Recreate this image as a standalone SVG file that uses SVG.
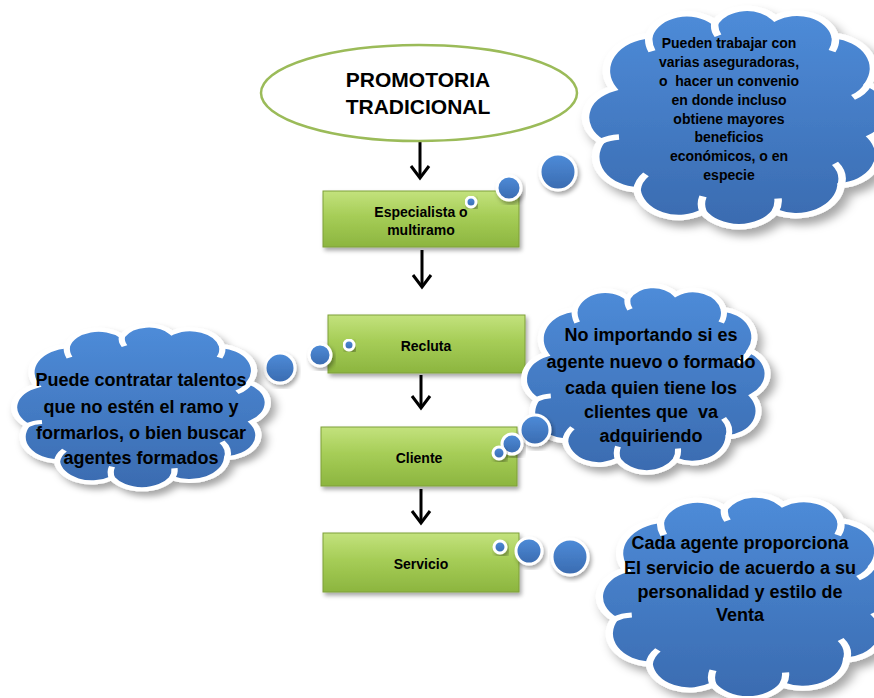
<svg xmlns="http://www.w3.org/2000/svg" width="874" height="698" viewBox="0 0 874 698">
<style>
.box{fill:url(#boxGrad);stroke:#7f9f3a;stroke-width:1;filter:url(#sh)}
.btxt{font-family:"Liberation Sans",Arial,sans-serif;font-weight:bold;font-size:14px;fill:#000;text-anchor:middle}
.cloud{fill:url(#cloudGrad);stroke:#ffffff;stroke-width:2.5;vector-effect:non-scaling-stroke;filter:url(#sh)}
.inner{fill:none;stroke:#ffffff;stroke-width:2.5;vector-effect:non-scaling-stroke}
.bub{fill:url(#cloudGrad);stroke:#ffffff;stroke-width:3;filter:url(#sh)}
.ctxt{font-family:"Liberation Sans",Arial,sans-serif;font-weight:bold;font-size:14px;fill:#000;text-anchor:middle}
.ctxt2{font-family:"Liberation Sans",Arial,sans-serif;font-weight:bold;font-size:18px;fill:#000;text-anchor:middle}
.arrow{stroke:#000;stroke-width:3;fill:none;marker-end:url(#head)}
</style>
<defs>
<linearGradient id="boxGrad" x1="0" y1="0" x2="0" y2="1">
<stop offset="0" stop-color="#c3e27d"/>
<stop offset="0.45" stop-color="#a6cd57"/>
<stop offset="1" stop-color="#8cb53f"/>
</linearGradient>
<linearGradient id="cloudGrad" x1="0" y1="0" x2="0" y2="1">
<stop offset="0" stop-color="#4e8cd9"/>
<stop offset="1" stop-color="#3a6bb0"/>
</linearGradient>
<filter id="sh" x="-10%" y="-10%" width="130%" height="130%">
<feDropShadow dx="2" dy="3" stdDeviation="2" flood-color="#000" flood-opacity="0.35"/>
</filter>
<marker id="head" viewBox="-2 -2 17 22" refX="12" refY="9" markerWidth="17" markerHeight="22" markerUnits="userSpaceOnUse" orient="auto">
<path d="M0,0 L12,9 L0,18" fill="none" stroke="#000" stroke-width="3"/>
</marker>
<path id="cloudShape" d="M10,38 A16,16 0 0 1 22,14 A13,13 0 0 1 44,8 A12,12 0 0 1 64,6 A13,13 0 0 1 84,14 A15,15 0 0 1 95,36 A14,14 0 0 1 96,60 A14,14 0 0 1 86,82 A15,15 0 0 1 64,94 A14,14 0 0 1 40,94 A14,14 0 0 1 18,84 A15,15 0 0 1 6,62 A14,14 0 0 1 10,38 Z"/>
<path id="cloudInner" d="M22,14 A14,14 0 0 0 23,21 M44,8 A10,10 0 0 0 45,14 M84,14 A12,12 0 0 1 83,21 M95,36 A12,12 0 0 1 90,42 M86,82 A12,12 0 0 0 84,72 M64,94 A12,12 0 0 0 65,88 M40,94 A12,12 0 0 1 40,87 M18,84 A12,12 0 0 1 21,77 M6,62 A12,12 0 0 1 12,60"/>
</defs>
<rect width="874" height="698" fill="#ffffff"/>

<g id="connectors">
<line class="arrow" x1="420" y1="141" x2="420" y2="178"/>
<line class="arrow" x1="422" y1="250" x2="422" y2="287"/>
<line class="arrow" x1="421" y1="375" x2="421" y2="408"/>
<line class="arrow" x1="421" y1="489" x2="421" y2="523"/>
</g>

<g id="promotoria">
<ellipse cx="419" cy="93" rx="158" ry="48" fill="#ffffff" stroke="#9bbb59" stroke-width="2.5"/>
<text x="418" y="87" font-family="'Liberation Sans',Arial,sans-serif" font-weight="bold" font-size="21" text-anchor="middle">PROMOTORIA</text>
<text x="418" y="114" font-family="'Liberation Sans',Arial,sans-serif" font-weight="bold" font-size="21" text-anchor="middle">TRADICIONAL</text>
</g>

<g id="especialista">
<rect class="box" x="323" y="191" width="196" height="56"/>
<text class="btxt" x="421" y="217">Especialista o</text>
<text class="btxt" x="421" y="235">multiramo</text>
</g>

<g id="recluta">
<rect class="box" x="328" y="315" width="197" height="58"/>
<text class="btxt" x="426" y="351">Recluta</text>
</g>

<g id="cliente">
<rect class="box" x="321" y="427" width="196" height="59"/>
<text class="btxt" x="419" y="463">Cliente</text>
</g>

<g id="servicio">
<rect class="box" x="323" y="533" width="196" height="59"/>
<text class="btxt" x="421" y="569">Servicio</text>
</g>

<g id="nota-aseguradoras">
<circle class="bub" cx="558" cy="172" r="18"/>
<circle class="bub" cx="509" cy="188" r="12"/>
<circle class="bub" cx="471" cy="202" r="5"/>
<g transform="translate(583,5) scale(3.0,2.2)">
<use href="#cloudShape" class="cloud"/>
<use href="#cloudInner" class="inner"/>
</g>
<text class="ctxt" x="729" y="48">Pueden trabajar con</text>
<text class="ctxt" x="729" y="67">varias aseguradoras,</text>
<text class="ctxt" x="729" y="86" style="white-space:pre">o  hacer un convenio</text>
<text class="ctxt" x="729" y="105">en donde incluso</text>
<text class="ctxt" x="729" y="124">obtiene mayores</text>
<text class="ctxt" x="729" y="142">beneficios</text>
<text class="ctxt" x="729" y="161">económicos, o en</text>
<text class="ctxt" x="729" y="180">especie</text>
</g>

<g id="nota-contratar">
<circle class="bub" cx="280" cy="368" r="15"/>
<circle class="bub" cx="320" cy="355" r="11"/>
<circle class="bub" cx="349" cy="345" r="5"/>
<g transform="translate(12,323) scale(2.5,1.65)">
<use href="#cloudShape" class="cloud"/>
<use href="#cloudInner" class="inner"/>
</g>
<text class="ctxt2" x="141" y="386">Puede contratar talentos</text>
<text class="ctxt2" x="141" y="413">que no estén el ramo y</text>
<text class="ctxt2" x="141" y="439">formarlos, o bien buscar</text>
<text class="ctxt2" x="141" y="464">agentes formados</text>
</g>

<g id="nota-clientes">
<g transform="translate(522,283) scale(2.4,1.88)">
<use href="#cloudShape" class="cloud"/>
<use href="#cloudInner" class="inner"/>
</g>
<circle class="bub" cx="535" cy="430" r="15"/>
<circle class="bub" cx="512" cy="444" r="10"/>
<circle class="bub" cx="499" cy="453" r="6"/>
<text class="ctxt2" x="651" y="341">No importando si es</text>
<text class="ctxt2" x="651" y="368">agente nuevo o formado</text>
<text class="ctxt2" x="651" y="394">cada quien tiene los</text>
<text class="ctxt2" x="651" y="418" style="white-space:pre">clientes que  va</text>
<text class="ctxt2" x="651" y="442">adquiriendo</text>
</g>

<g id="nota-servicio">
<circle class="bub" cx="570" cy="557" r="18"/>
<circle class="bub" cx="529" cy="551" r="13"/>
<circle class="bub" cx="500" cy="547" r="6"/>
<g transform="translate(597,492) scale(2.9,2.05)">
<use href="#cloudShape" class="cloud"/>
<use href="#cloudInner" class="inner"/>
</g>
<text class="ctxt2" x="740" y="549">Cada agente proporciona</text>
<text class="ctxt2" x="740" y="574">El servicio de acuerdo a su</text>
<text class="ctxt2" x="740" y="598">personalidad y estilo de</text>
<text class="ctxt2" x="740" y="621">Venta</text>
</g>
</svg>
